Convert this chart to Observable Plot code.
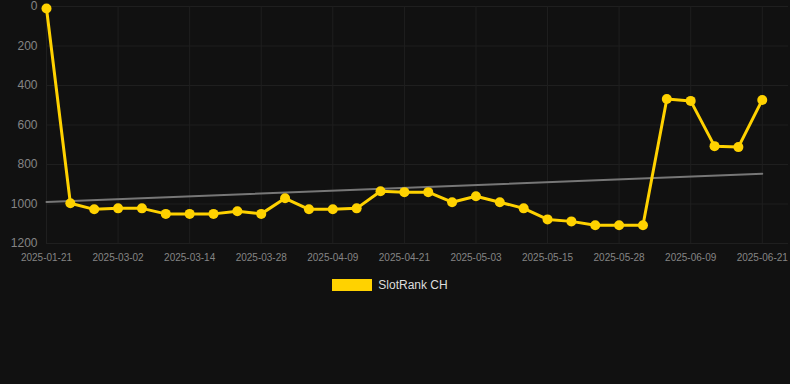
<!DOCTYPE html>
<html><head><meta charset="utf-8">
<script src="https://cdn.jsdelivr.net/npm/d3@7"></script>
<script src="https://cdn.jsdelivr.net/npm/@observablehq/plot@0.6"></script>
<style>
html,body{margin:0;padding:0;background:#111111;}
#chart{width:790px;}
.legend{display:flex;justify-content:center;align-items:center;gap:6px;margin-top:8px;padding-right:10px;font-family:"Liberation Sans",Arial,sans-serif;font-size:12px;color:#dddddd;}
.legend .sw{width:40px;height:12px;background:#FFD200;display:inline-block;}
</style></head>
<body><div id="chart"></div>
<script>
const seriesName = "SlotRank CH";
const ranks = [10, 996, 1027, 1022, 1022, 1050, 1050, 1050, 1037, 1050, 971, 1027, 1027, 1022, 935, 940, 940, 991, 961, 991, 1022, 1078, 1088, 1108, 1108, 1108, 468, 478, 707, 712, 473];
const tickIndex = [0, 3, 6, 9, 12, 15, 18, 21, 24, 27, 30];
const tickLabels = ["2025-01-21","2025-03-02","2025-03-14","2025-03-28","2025-04-09","2025-04-21","2025-05-03","2025-05-15","2025-05-28","2025-06-09","2025-06-21"];
const yTicks = [0, 200, 400, 600, 800, 1000, 1200];

const data = ranks.map((v, i) => ({i, v}));
const labelOf = new Map(tickIndex.map((t, k) => [t, tickLabels[k]]));

const plot = Plot.plot({
  width: 790, height: 270,
  marginLeft: 46, marginRight: 2, marginTop: 6, marginBottom: 27,
  style: {background: "#111111", color: "#888", fontFamily: "Liberation Sans, Arial, sans-serif"},
  x: {type: "linear", domain: [0, 31.1]},
  y: {domain: [0, 1200], reverse: true},
  marks: [
    Plot.gridY(yTicks, {stroke: "#1f1f1f", strokeOpacity: 1}),
    Plot.gridX(tickIndex, {stroke: "#1f1f1f", strokeOpacity: 1}),
    Plot.axisY(yTicks, {tickSize: 0, tickPadding: 9, fontSize: 12, fill: "#858585", label: null, tickFormat: d => String(d)}),
    Plot.axisX(tickIndex, {tickSize: 0, tickPadding: 10, fontSize: 10, fill: "#858585", label: null, tickFormat: d => labelOf.get(d)}),
    Plot.linearRegressionY(data, {x: "i", y: "v", ci: 0, stroke: "#777777", strokeWidth: 2}),
    Plot.line(data, {x: "i", y: "v", stroke: "#FFD200", strokeWidth: 3}),
    Plot.dot(data, {x: "i", y: "v", r: 5, fill: "#FFD200", stroke: "none"})
  ]
});
document.getElementById("chart").appendChild(plot);
const lg = document.createElement("div");
lg.className = "legend";
lg.innerHTML = `<span class="sw"></span><span>${seriesName}</span>`;
document.getElementById("chart").appendChild(lg);
</script></body></html>
